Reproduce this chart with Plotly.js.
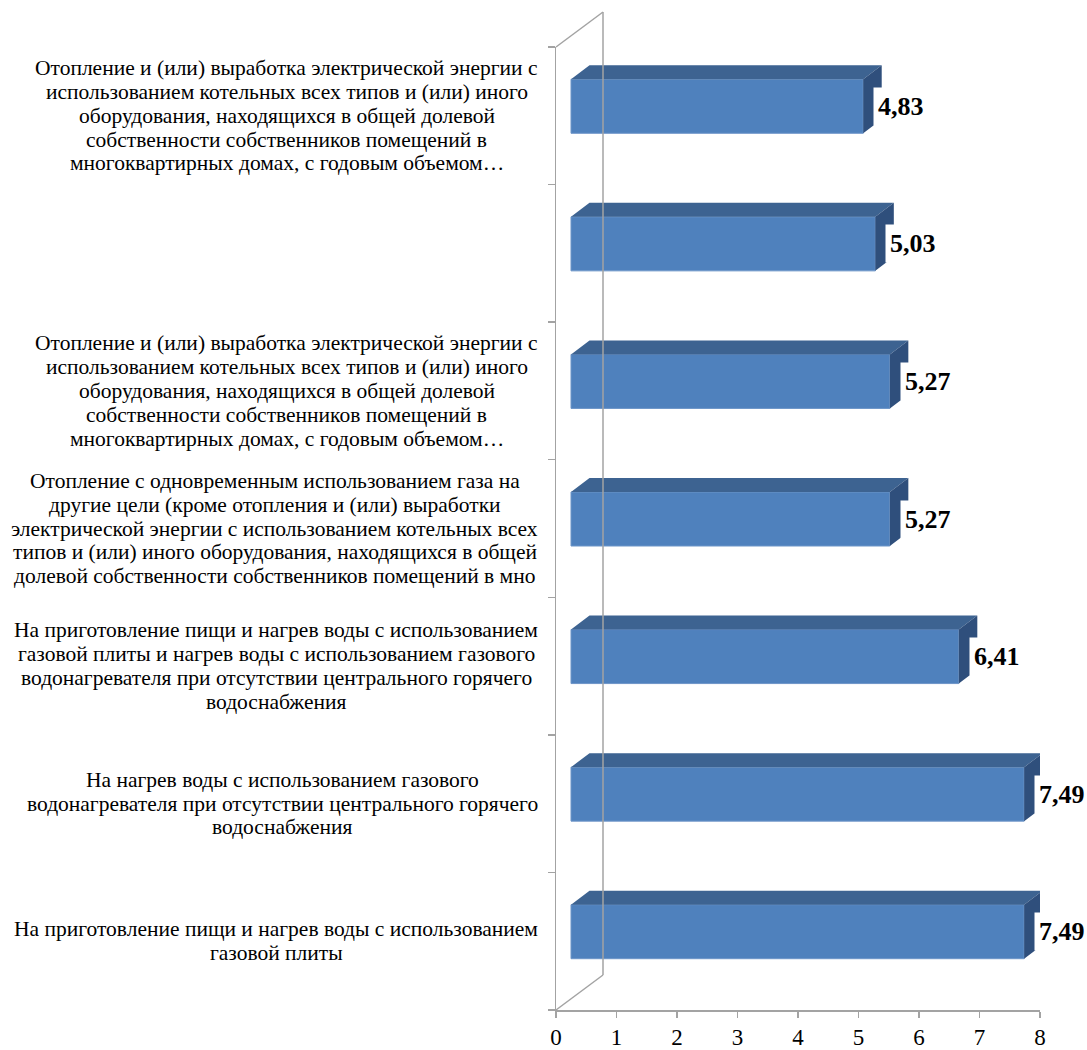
<!DOCTYPE html>
<html>
<head>
<meta charset="utf-8">
<script src="https://cdn.plot.ly/plotly-3.0.1.min.js"></script>
<style>html,body{margin:0;padding:0;background:#fff;}#chart{width:1087px;height:1050px;}</style>
</head>
<body>
<div id="chart"></div>
<script>
// ---- data (bottom to top) ----
const categories = [
  "На приготовление пищи и нагрев воды с использованием<br>газовой плиты",
  "На нагрев воды с использованием газового<br>водонагревателя при отсутствии центрального горячего<br>водоснабжения",
  "На приготовление пищи и нагрев воды с использованием<br>газовой плиты и нагрев воды с использованием газового<br>водонагревателя при отсутствии центрального горячего<br>водоснабжения",
  "Отопление с одновременным использованием газа на<br>другие цели (кроме отопления и (или) выработки<br>электрической энергии с использованием котельных всех<br>типов и (или) иного оборудования, находящихся в общей<br>долевой собственности собственников помещений в мно",
  "Отопление и (или) выработка электрической энергии с<br>использованием котельных всех типов и (или) иного<br>оборудования, находящихся в общей долевой<br>собственности собственников помещений в<br>многоквартирных домах, с годовым объемом…",
  "",
  "Отопление и (или) выработка электрической энергии с<br>использованием котельных всех типов и (или) иного<br>оборудования, находящихся в общей долевой<br>собственности собственников помещений в<br>многоквартирных домах, с годовым объемом…"
];
const values = [7.49, 7.49, 6.41, 5.27, 5.27, 5.03, 4.83];
const xTicks = [0, 1, 2, 3, 4, 5, 6, 7, 8];

// ---- style ----
const W = 1087, H = 1050;
const M = {l: 556, r: 47, t: 47, b: 40};
const plotW = W - M.l - M.r, plotH = H - M.t - M.b;
const pxPerX = plotW / 8, pxPerY = plotH / categories.length;
const frontShiftX = 15 / pxPerX;   // bar front plane offset (3D)
const frontShiftY = 9.5 / pxPerY;
const barW = 54 / pxPerY;
const dX = 18.5 / pxPerX, dY = 14 / pxPerY; // bar depth
const wallDX = 47, wallDY = 35; // wall depth in px
const gridCol = '#a3a3a3';
const serif = 'Liberation Serif, Times New Roman, serif';
const labelSize = 21.5, labelLineH = 23.8, labelRight = 538;

const idx = categories.map((_, i) => i);

// top and side faces
const topX = [], topY = [], sideX = [], sideY = [];
values.forEach((v, i) => {
  const yt = i + barW / 2, yb = i - barW / 2;
  topX.push(0, v, v + dX, dX, 0, null);
  topY.push(yt, yt, yt + dY, yt + dY, yt, null);
  sideX.push(v, v + dX, v + dX, v, v, null);
  sideY.push(yb, yb + dY, yt + dY, yt, yb, null);
});

const traces = [
  {type: 'scatter', x: [0, 8], y: [0, 0], mode: 'markers', marker: {opacity: 0}, hoverinfo: 'skip', showlegend: false},
  {type: 'bar', orientation: 'h', x: values, y: idx, width: barW, xaxis: 'x2', yaxis: 'y2',
   marker: {color: '#4f81bd', line: {color: '#6d95c8', width: 1}}, hoverinfo: 'skip', showlegend: false},
  {type: 'scatter', x: topX, y: topY, xaxis: 'x2', yaxis: 'y2', mode: 'lines', fill: 'toself',
   fillcolor: '#3d6391', line: {width: 0, color: '#3d6391'}, hoverinfo: 'skip', showlegend: false, cliponaxis: false},
  {type: 'scatter', x: sideX, y: sideY, xaxis: 'x2', yaxis: 'y2', mode: 'lines', fill: 'toself',
   fillcolor: '#2f4f7c', line: {width: 0, color: '#2f4f7c'}, hoverinfo: 'skip', showlegend: false, cliponaxis: false}
];

// text measurement for centred multi-line category labels
const cnv = document.createElement('canvas').getContext('2d');
cnv.font = labelSize + 'px "Liberation Serif", "Times New Roman", serif';

const annotations = [];
categories.forEach((c, i) => {
  if (!c) return;
  const lines = c.split('<br>');
  const maxW = Math.max.apply(null, lines.map(s => cnv.measureText(s).width));
  const cx = labelRight - maxW / 2;
  const n = lines.length;
  lines.forEach((s, k) => {
    annotations.push({xref: 'paper', yref: 'y', x: (cx - M.l) / plotW, y: i, text: s,
      yshift: ((n - 1) / 2 - k) * labelLineH,
      xanchor: 'center', yanchor: 'middle', align: 'center', showarrow: false,
      font: {family: serif, size: labelSize, color: '#000'}});
  });
});
values.forEach((v, i) => {
  annotations.push({xref: 'x2', yref: 'y2', x: v, y: i, text: '<b>' + v.toFixed(2).replace('.', ',') + '</b>',
    xanchor: 'left', yanchor: 'middle', xshift: 10, showarrow: false, bgcolor: '#ffffff', borderpad: 4,
    font: {family: serif, size: 26, color: '#000'}});
});

const px2x = p => (p - M.l) / plotW;
const px2y = p => (H - M.b - p) / plotH;
const lineSt = {color: gridCol, width: 1.5};
const shapes = [
  {type: 'line', xref: 'paper', yref: 'paper', x0: 0, y0: 1, x1: px2x(M.l + wallDX), y1: px2y(M.t - wallDY), line: lineSt},
  {type: 'line', xref: 'paper', yref: 'paper', x0: px2x(M.l + wallDX), y0: px2y(M.t - wallDY), x1: px2x(M.l + wallDX), y1: px2y(H - M.b - wallDY), line: lineSt},
  {type: 'line', xref: 'paper', yref: 'paper', x0: 0, y0: 0, x1: px2x(M.l + wallDX), y1: px2y(H - M.b - wallDY), line: lineSt}
];

const layout = {
  width: W, height: H, margin: M, paper_bgcolor: '#fff', plot_bgcolor: 'rgba(0,0,0,0)',
  showlegend: false,
  xaxis: {range: [0, 8], tickvals: xTicks, ticktext: xTicks.map(String), showgrid: false, zeroline: false,
    showline: true, linecolor: gridCol, linewidth: 1.5, ticks: 'outside', ticklen: 6, tickcolor: gridCol, tickwidth: 1.5,
    tickfont: {family: serif, size: 23, color: '#000'}, fixedrange: true},
  yaxis: {range: [-0.5, categories.length - 0.5], tickvals: categories.map((_, i) => i - 0.5).concat([categories.length - 0.5]),
    showticklabels: false, showgrid: false, zeroline: false, showline: true, linecolor: gridCol, linewidth: 1.5,
    ticks: 'outside', ticklen: 7, tickcolor: gridCol, tickwidth: 1.5, fixedrange: true},
  xaxis2: {overlaying: 'x', range: [-frontShiftX, 8 - frontShiftX], visible: false, fixedrange: true},
  yaxis2: {overlaying: 'y', range: [-0.5 - frontShiftY, categories.length - 0.5 - frontShiftY], visible: false, fixedrange: true},
  annotations: annotations,
  shapes: shapes
};

Plotly.newPlot('chart', traces, layout, {staticPlot: true, displayModeBar: false});
</script>
</body>
</html>
